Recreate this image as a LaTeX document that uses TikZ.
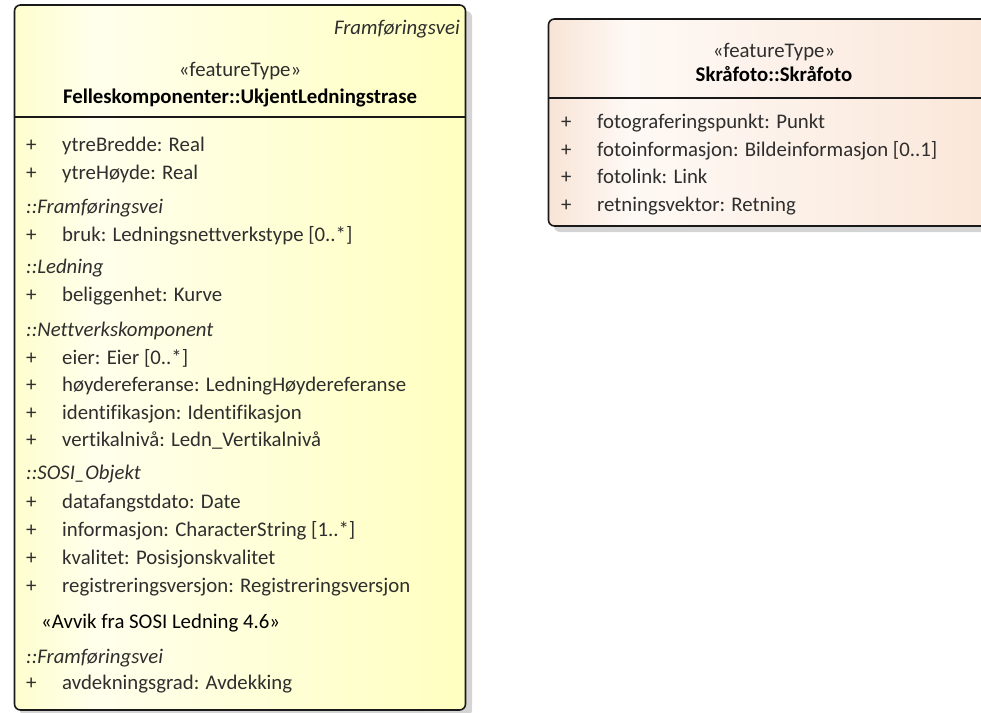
\documentclass[tikz,border=0pt]{standalone}
\usepackage{fontspec}
\setmainfont[Ligatures=NoCommon]{Carlito}
\definecolor{yA}{HTML}{FEFECE}
\definecolor{yW}{HTML}{FFFFEC}
\definecolor{yB}{HTML}{FFFFC0}
\definecolor{pA}{HTML}{F8E4D6}
\definecolor{pW}{HTML}{FEF9F5}
\definecolor{pB}{HTML}{FAE6D8}
\definecolor{shadowc}{HTML}{D4D4D4}
\definecolor{txtc}{HTML}{2E2E2E}
\pgfdeclarehorizontalshading{yelsh}{100bp}{color(0bp)=(yA); color(25bp)=(yA); color(34bp)=(yW); color(75bp)=(yB); color(100bp)=(yB)}
\pgfdeclarehorizontalshading{peachsh}{100bp}{color(0bp)=(pA); color(25bp)=(pA); color(34bp)=(pW); color(75bp)=(pB); color(100bp)=(pB)}
\newcommand{\fsz}{\fontsize{20.8}{24}\selectfont}
\begin{document}
\begin{tikzpicture}[x=1pt,y=-1pt,
  fnt/.style={font=\fsz},
  txt/.style={fnt, inner sep=0pt, anchor=base west, text=txtc},
  hdr/.style={inner sep=0pt, anchor=base west, text=txtc, font=\fsz\itshape},
  ctr/.style={fnt, inner sep=0pt, anchor=base, text=black},
  boxline/.style={draw=black!90, line width=1.6pt},
  shadowbox/.style={fill=shadowc}]
\useasboundingbox (0,0) rectangle (981,712);
\clip (0,0) rectangle (981,712);
% ---------- left class ----------
\fill[shadowbox, rounded corners=6] (20,11) rectangle (472,716);
\shade[shading=yelsh, rounded corners=6] (14.5,5) rectangle (465.5,710);
\draw[boxline, rounded corners=6] (14.5,5) rectangle (465.5,710);
\draw[boxline] (14.5,117) -- (465.5,117);
\node[inner sep=0pt, anchor=base east, text=txtc, font=\fsz\itshape] (lst) at (460,34) {Framføringsvei};
\node[ctr, text=txtc] (lft) at (240,76) {«featureType»};
\node[ctr, font=\fsz\bfseries] (lname) at (240,103) {Felleskomponenter::UkjentLedningstrase};
% attributes
\node[txt] (p1) at (26,151) {+}; \node[txt] (a1) at (62,151) {ytreBredde: Real};
\node[txt] (p2) at (26,179) {+}; \node[txt] (a2) at (62,179) {ytreHøyde: Real};
\node[hdr] (h1) at (26,213) {::Framføringsvei};
\node[txt] (p3) at (26,241) {+}; \node[txt] (a3) at (62,241) {bruk: Ledningsnettverkstype [0..*]};
\node[hdr] (h2) at (26,273) {::Ledning};
\node[txt] (p4) at (26,301) {+}; \node[txt] (a4) at (62,301) {beliggenhet: Kurve};
\node[hdr] (h3) at (26,336) {::Nettverkskomponent};
\node[txt] (p5) at (26,364) {+}; \node[txt] (a5) at (62,364) {eier: Eier [0..*]};
\node[txt] (p6) at (26,391) {+}; \node[txt] (a6) at (62,391) {høydereferanse: LedningHøydereferanse};
\node[txt] (p7) at (26,419) {+}; \node[txt] (a7) at (62,419) {identifikasjon: Identifikasjon};
\node[txt] (p8) at (26,446) {+}; \node[txt] (a8) at (62,446) {vertikalnivå: Ledn\_Vertikalnivå};
\node[hdr] (h4) at (26,479) {::SOSI\_Objekt};
\node[txt] (p9) at (26,508) {+}; \node[txt] (a9) at (62,508) {datafangstdato: Date};
\node[txt] (p10) at (26,536) {+}; \node[txt] (a10) at (62,536) {informasjon: CharacterString [1..*]};
\node[txt] (p11) at (26,564) {+}; \node[txt] (a11) at (62,564) {kvalitet: Posisjonskvalitet};
\node[txt] (p12) at (26,592) {+}; \node[txt] (a12) at (62,592) {registreringsversjon: Registreringsversjon};
\node[txt, text=black] (st) at (41,628) {«Avvik fra SOSI Ledning 4.6»};
\node[hdr] (h5) at (26,663) {::Framføringsvei};
\node[txt] (p13) at (26,689) {+}; \node[txt] (a13) at (62,689) {avdekningsgrad: Avdekking};
% ---------- right class ----------
\fill[shadowbox, rounded corners=6] (554,25) rectangle (1006,232);
\shade[shading=peachsh, rounded corners=6] (548.5,19) rectangle (1000,226);
\draw[boxline, rounded corners=6] (548.5,19) rectangle (1000,226);
\draw[boxline] (548.5,98) -- (1000,98);
\node[ctr, text=txtc] (rft) at (774,57) {«featureType»};
\node[ctr, font=\fsz\bfseries] (rname) at (774,81) {Skråfoto::Skråfoto};
\node[txt] (q1) at (561,128) {+}; \node[txt] (b1) at (597,128) {fotograferingspunkt: Punkt};
\node[txt] (q2) at (561,156) {+}; \node[txt] (b2) at (597,156) {fotoinformasjon: Bildeinformasjon [0..1]};
\node[txt] (q3) at (561,183) {+}; \node[txt] (b3) at (597,183) {fotolink: Link};
\node[txt] (q4) at (561,211) {+}; \node[txt] (b4) at (597,211) {retningsvektor: Retning};
\end{tikzpicture}
\end{document}
